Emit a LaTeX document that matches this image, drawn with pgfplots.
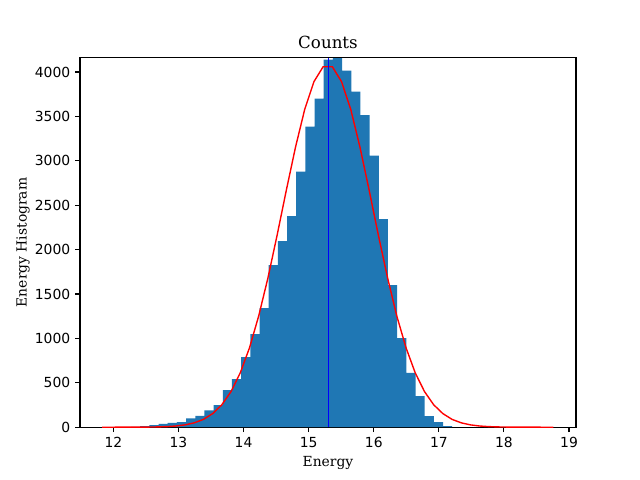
\documentclass[border=0pt]{standalone}
\usepackage{fontspec}
\setmainfont{DejaVu Serif}
\newfontfamily\tickfont{DejaVu Sans}
\usepackage{pgfplots}
\pgfplotsset{compat=1.18}
\definecolor{tabblue}{HTML}{1F77B4}
\begin{document}
\begin{tikzpicture}
\path[use as bounding box] (0,0) rectangle (6.4in,4.8in);
\begin{axis}[
  at={(0.8in,0.528in)}, anchor=south west,
  scale only axis, width=4.96in, height=3.696in,
  xmin=11.487, xmax=19.107, ymin=0, ymax=4162,
  xtick={12,...,19}, ytick={0,500,...,4000},
  minor tick num=0,
  tick pos=left,
  tick align=outside, major tick length=3.5bp,
  every tick/.style={black, line width=0.8bp},
  axis line style={line width=0.8bp},
  tick label style={font=\tickfont\fontsize{10bp}{12bp}\selectfont},
  /pgf/number format/assume math mode=true,
  /pgf/number format/1000 sep={},
  scaled ticks=false,
  every axis title shift=0pt,
  title={Counts},
  title style={font=\fontsize{12bp}{14bp}\selectfont, at={(axis description cs:0.5,1)}, anchor=base, yshift=6.3bp},
  xlabel={Energy}, ylabel={Energy Histogram},
  label style={font=\fontsize{10bp}{12bp}\selectfont},
  xlabel style={at={(axis description cs:0.5,0)}, anchor=base, yshift=-28.6bp},
  ylabel style={at={(axis description cs:0,0.5)}, anchor=base, yshift=38.4bp},
]
\addplot[ybar interval, fill=tabblue, draw=none] coordinates {
(12.2707,5) (12.4117,12) (12.5527,22) (12.6937,37) (12.8347,48) (12.9757,57)
(13.1167,100) (13.2577,127) (13.3987,190) (13.5397,248) (13.6807,417) (13.8217,540)
(13.9627,789) (14.1037,1048) (14.2447,1341) (14.3857,1825) (14.5267,2096) (14.6677,2377)
(14.8087,2877) (14.9497,3384) (15.0907,3700) (15.2317,4139) (15.3727,4155) (15.5137,4015)
(15.6547,3778) (15.7957,3515) (15.9367,3057) (16.0777,2344) (16.2187,1600) (16.3597,1003)
(16.5007,612) (16.6417,349) (16.7827,124) (16.9237,56) (17.0647,11) (17.2057,0)
};
\addplot[red, line width=1bp] coordinates {
(11.827,0.01) (11.968,0.04) (12.110,0.1) (12.251,0.25) (12.393,0.6) (12.534,1.4)
(12.676,3.1) (12.817,6.5) (12.959,13.3) (13.100,26) (13.242,49) (13.383,88)
(13.525,153) (13.666,253) (13.808,402) (13.949,612) (14.091,894) (14.232,1252)
(14.374,1680) (14.515,2161) (14.656,2666) (14.798,3154) (14.939,3578) (15.081,3891)
(15.222,4059) (15.364,4059) (15.505,3891) (15.647,3578) (15.788,3154) (15.930,2666)
(16.071,2161) (16.213,1680) (16.354,1252) (16.496,894) (16.637,612) (16.779,402)
(16.920,253) (17.062,153) (17.203,88) (17.345,49) (17.486,26) (17.628,13.3)
(17.769,6.5) (17.911,3.1) (18.052,1.4) (18.194,0.6) (18.335,0.25) (18.477,0.1)
(18.618,0.04) (18.760,0.01)
};
\addplot[blue, line width=1bp] coordinates {(15.305,0) (15.305,4162)};
\end{axis}
\end{tikzpicture}
\end{document}
